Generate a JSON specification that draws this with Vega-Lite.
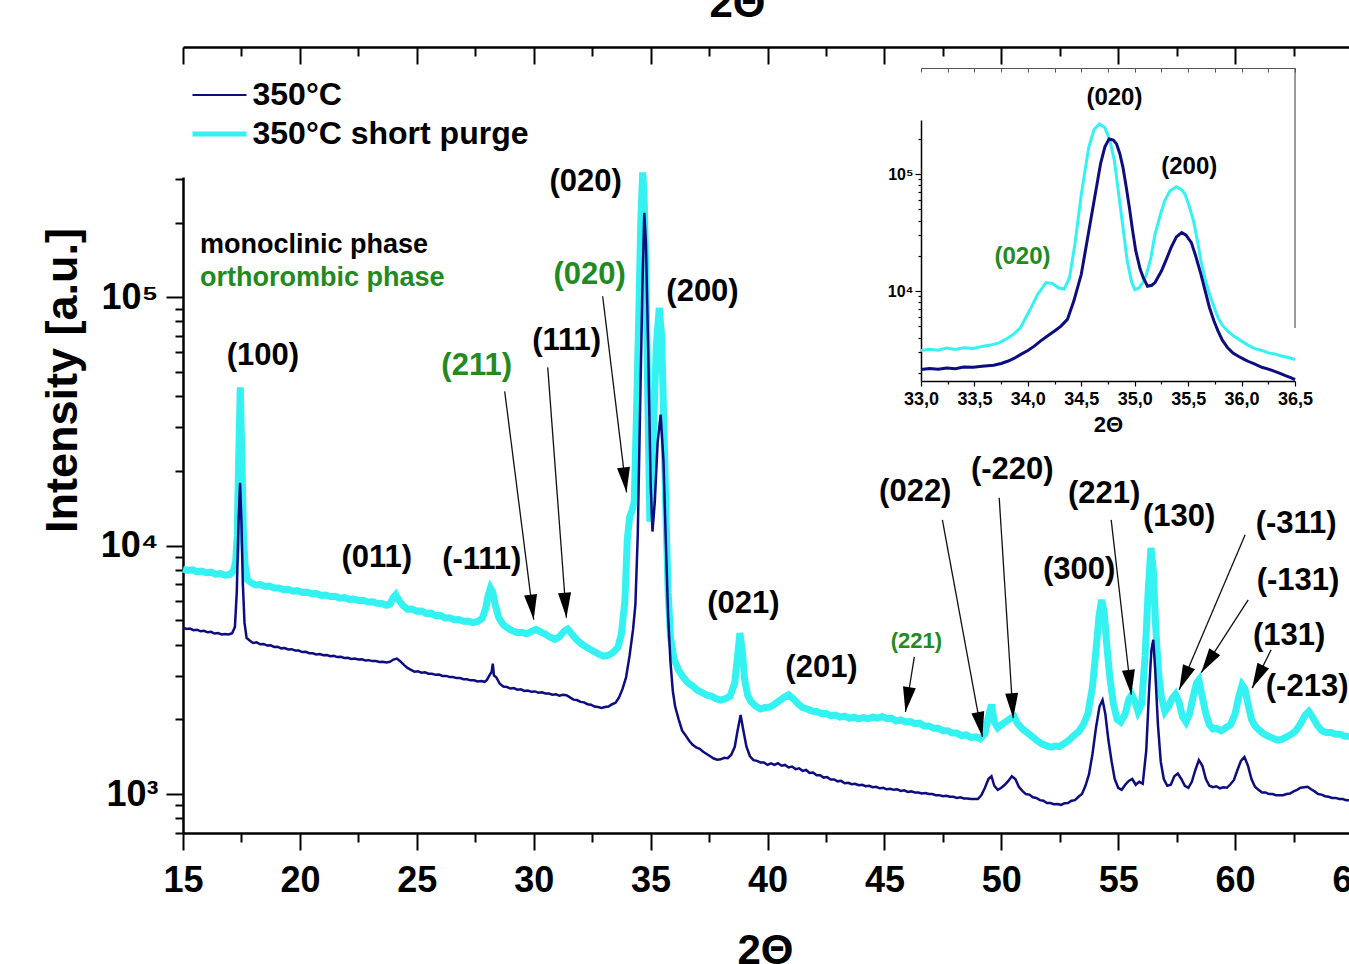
{
  "$schema": "https://vega.github.io/schema/vega-lite/v6.json",
  "width": 1169,
  "height": 656,
  "autosize": "none",
  "padding": {"left": 183, "top": 177, "right": -3, "bottom": 131},
  "background": "white",
  "config": {
    "view": {"stroke": null},
    "axis": {"grid": false, "domainColor": "black", "tickColor": "black", "labelColor": "black", "titleColor": "black", "labelFont": "Liberation Sans", "titleFont": "Liberation Sans", "labelFontWeight": "bold", "titleFontWeight": "bold", "labelOverlap": false, "labelBound": false, "labelFlush": false}
  },
  "datasets": {
    "cyan": [
      {"x":15.0,"y":8050},{"x":15.2,"y":7950},{"x":15.4,"y":8000},{"x":15.6,"y":7850},{"x":15.8,"y":7900},{"x":16.0,"y":7780},{"x":16.2,"y":7820},{"x":16.4,"y":7680},{"x":16.6,"y":7720},{"x":16.8,"y":7600},{"x":17.0,"y":7650},{"x":17.15,"y":7900},{"x":17.25,"y":8600},{"x":17.32,"y":11000},{"x":17.38,"y":22000},{"x":17.45,"y":43400},{"x":17.52,"y":22000},{"x":17.58,"y":11500},{"x":17.65,"y":8400},{"x":17.75,"y":7300},{"x":17.9,"y":7100},{"x":18.1,"y":6950},{"x":18.3,"y":6980},{"x":18.5,"y":6850},{"x":18.7,"y":6880},{"x":18.9,"y":6750},{"x":19.1,"y":6760},{"x":19.3,"y":6650},{"x":19.5,"y":6680},{"x":19.7,"y":6560},{"x":19.9,"y":6590},{"x":20.1,"y":6480},{"x":20.3,"y":6500},{"x":20.5,"y":6400},{"x":20.7,"y":6420},{"x":20.9,"y":6310},{"x":21.1,"y":6330},{"x":21.3,"y":6240},{"x":21.5,"y":6260},{"x":21.7,"y":6150},{"x":21.9,"y":6180},{"x":22.1,"y":6080},{"x":22.3,"y":6100},{"x":22.5,"y":6020},{"x":22.7,"y":6030},{"x":22.9,"y":5930},{"x":23.1,"y":5950},{"x":23.3,"y":5860},{"x":23.5,"y":5850},{"x":23.7,"y":5760},{"x":23.85,"y":5820},{"x":24.0,"y":6200},{"x":24.1,"y":6350},{"x":24.25,"y":6000},{"x":24.4,"y":5750},{"x":24.6,"y":5550},{"x":24.8,"y":5560},{"x":25.0,"y":5450},{"x":25.2,"y":5460},{"x":25.4,"y":5340},{"x":25.6,"y":5350},{"x":25.8,"y":5230},{"x":26.0,"y":5240},{"x":26.2,"y":5120},{"x":26.4,"y":5130},{"x":26.6,"y":5030},{"x":26.8,"y":5040},{"x":27.0,"y":4960},{"x":27.2,"y":4970},{"x":27.4,"y":4900},{"x":27.6,"y":4950},{"x":27.8,"y":5100},{"x":27.95,"y":5600},{"x":28.05,"y":6300},{"x":28.15,"y":6750},{"x":28.25,"y":6500},{"x":28.35,"y":5800},{"x":28.5,"y":5150},{"x":28.7,"y":4800},{"x":28.9,"y":4650},{"x":29.1,"y":4540},{"x":29.3,"y":4460},{"x":29.5,"y":4480},{"x":29.7,"y":4420},{"x":29.9,"y":4520},{"x":30.1,"y":4600},{"x":30.3,"y":4500},{"x":30.5,"y":4400},{"x":30.7,"y":4280},{"x":30.9,"y":4200},{"x":31.1,"y":4300},{"x":31.3,"y":4530},{"x":31.45,"y":4620},{"x":31.6,"y":4450},{"x":31.8,"y":4220},{"x":32.0,"y":4050},{"x":32.2,"y":3930},{"x":32.4,"y":3830},{"x":32.6,"y":3740},{"x":32.8,"y":3650},{"x":33.0,"y":3590},{"x":33.2,"y":3620},{"x":33.4,"y":3720},{"x":33.6,"y":3900},{"x":33.75,"y":4400},{"x":33.9,"y":6000},{"x":34.0,"y":10500},{"x":34.1,"y":13000},{"x":34.2,"y":13800},{"x":34.3,"y":15000},{"x":34.4,"y":35000},{"x":34.5,"y":90000},{"x":34.58,"y":200000},{"x":34.66,"y":318000},{"x":34.72,"y":260000},{"x":34.8,"y":120000},{"x":34.88,"y":40000},{"x":34.97,"y":12500},{"x":35.05,"y":16000},{"x":35.15,"y":35000},{"x":35.25,"y":65000},{"x":35.37,"y":90800},{"x":35.47,"y":70000},{"x":35.57,"y":30000},{"x":35.67,"y":12000},{"x":35.75,"y":6500},{"x":35.85,"y":4300},{"x":36.0,"y":3500},{"x":36.2,"y":3150},{"x":36.4,"y":2950},{"x":36.6,"y":2800},{"x":36.8,"y":2720},{"x":37.0,"y":2620},{"x":37.2,"y":2560},{"x":37.4,"y":2500},{"x":37.6,"y":2480},{"x":37.8,"y":2420},{"x":38.0,"y":2390},{"x":38.2,"y":2420},{"x":38.4,"y":2480},{"x":38.6,"y":2800},{"x":38.72,"y":3600},{"x":38.82,"y":4450},{"x":38.92,"y":3800},{"x":39.02,"y":2900},{"x":39.15,"y":2500},{"x":39.3,"y":2350},{"x":39.5,"y":2260},{"x":39.7,"y":2200},{"x":39.9,"y":2230},{"x":40.1,"y":2240},{"x":40.3,"y":2300},{"x":40.5,"y":2370},{"x":40.7,"y":2450},{"x":40.9,"y":2510},{"x":41.1,"y":2420},{"x":41.3,"y":2310},{"x":41.5,"y":2230},{"x":41.7,"y":2200},{"x":41.9,"y":2160},{"x":42.1,"y":2150},{"x":42.3,"y":2110},{"x":42.5,"y":2110},{"x":42.7,"y":2070},{"x":42.9,"y":2080},{"x":43.1,"y":2040},{"x":43.3,"y":2060},{"x":43.5,"y":2020},{"x":43.7,"y":2040},{"x":43.9,"y":2010},{"x":44.1,"y":2030},{"x":44.3,"y":2010},{"x":44.5,"y":2040},{"x":44.7,"y":2020},{"x":44.9,"y":2050},{"x":45.1,"y":2010},{"x":45.3,"y":2020},{"x":45.5,"y":1970},{"x":45.7,"y":1990},{"x":45.9,"y":1950},{"x":46.1,"y":1960},{"x":46.3,"y":1920},{"x":46.5,"y":1930},{"x":46.7,"y":1880},{"x":46.9,"y":1880},{"x":47.1,"y":1840},{"x":47.3,"y":1840},{"x":47.5,"y":1800},{"x":47.7,"y":1800},{"x":47.9,"y":1760},{"x":48.1,"y":1760},{"x":48.3,"y":1720},{"x":48.5,"y":1730},{"x":48.7,"y":1690},{"x":48.9,"y":1700},{"x":49.1,"y":1670},{"x":49.3,"y":1750},{"x":49.45,"y":2050},{"x":49.58,"y":2290},{"x":49.7,"y":1950},{"x":49.85,"y":1850},{"x":50.0,"y":1900},{"x":50.2,"y":1960},{"x":50.4,"y":2020},{"x":50.55,"y":2050},{"x":50.7,"y":1920},{"x":50.9,"y":1830},{"x":51.1,"y":1770},{"x":51.3,"y":1710},{"x":51.5,"y":1650},{"x":51.7,"y":1600},{"x":51.9,"y":1570},{"x":52.1,"y":1545},{"x":52.3,"y":1560},{"x":52.5,"y":1555},{"x":52.7,"y":1600},{"x":52.9,"y":1650},{"x":53.1,"y":1720},{"x":53.3,"y":1780},{"x":53.5,"y":1900},{"x":53.7,"y":2100},{"x":53.9,"y":2700},{"x":54.05,"y":3800},{"x":54.18,"y":5200},{"x":54.29,"y":6050},{"x":54.4,"y":5400},{"x":54.52,"y":3900},{"x":54.65,"y":2900},{"x":54.8,"y":2300},{"x":54.95,"y":2000},{"x":55.1,"y":1950},{"x":55.3,"y":2100},{"x":55.45,"y":2400},{"x":55.58,"y":2510},{"x":55.72,"y":2350},{"x":55.85,"y":2150},{"x":56.0,"y":2300},{"x":56.15,"y":3600},{"x":56.28,"y":6500},{"x":56.4,"y":9790},{"x":56.5,"y":8000},{"x":56.6,"y":4800},{"x":56.72,"y":3100},{"x":56.85,"y":2450},{"x":57.0,"y":2150},{"x":57.15,"y":2250},{"x":57.3,"y":2420},{"x":57.45,"y":2520},{"x":57.6,"y":2350},{"x":57.75,"y":2050},{"x":57.9,"y":1950},{"x":58.05,"y":2100},{"x":58.2,"y":2450},{"x":58.35,"y":2800},{"x":58.45,"y":2880},{"x":58.6,"y":2450},{"x":58.75,"y":2100},{"x":58.9,"y":1900},{"x":59.05,"y":1830},{"x":59.2,"y":1840},{"x":59.4,"y":1800},{"x":59.6,"y":1850},{"x":59.8,"y":1900},{"x":60.0,"y":2100},{"x":60.15,"y":2450},{"x":60.3,"y":2750},{"x":60.42,"y":2650},{"x":60.55,"y":2300},{"x":60.7,"y":2000},{"x":60.85,"y":1880},{"x":61.0,"y":1820},{"x":61.2,"y":1750},{"x":61.4,"y":1710},{"x":61.6,"y":1680},{"x":61.8,"y":1650},{"x":62.0,"y":1660},{"x":62.2,"y":1700},{"x":62.4,"y":1740},{"x":62.6,"y":1800},{"x":62.8,"y":1920},{"x":63.0,"y":2080},{"x":63.15,"y":2150},{"x":63.3,"y":2050},{"x":63.5,"y":1900},{"x":63.7,"y":1800},{"x":63.9,"y":1770},{"x":64.1,"y":1770},{"x":64.3,"y":1740},{"x":64.5,"y":1740},{"x":64.7,"y":1710},{"x":64.9,"y":1710},{"x":65.0,"y":1700}
    ],
    "navy": [
      {"x":15.0,"y":4680},{"x":15.15,"y":4620},{"x":15.3,"y":4640},{"x":15.45,"y":4570},{"x":15.6,"y":4590},{"x":15.75,"y":4520},{"x":15.9,"y":4540},{"x":16.05,"y":4480},{"x":16.2,"y":4500},{"x":16.35,"y":4430},{"x":16.5,"y":4450},{"x":16.65,"y":4390},{"x":16.8,"y":4410},{"x":16.95,"y":4390},{"x":17.1,"y":4440},{"x":17.22,"y":4700},{"x":17.3,"y":6500},{"x":17.37,"y":12000},{"x":17.44,"y":17900},{"x":17.5,"y":12500},{"x":17.56,"y":7000},{"x":17.63,"y":4900},{"x":17.72,"y":4250},{"x":17.85,"y":4150},{"x":18.0,"y":4060},{"x":18.15,"y":4080},{"x":18.3,"y":4010},{"x":18.45,"y":4020},{"x":18.6,"y":3960},{"x":18.75,"y":3970},{"x":18.9,"y":3910},{"x":19.05,"y":3920},{"x":19.2,"y":3860},{"x":19.35,"y":3870},{"x":19.5,"y":3820},{"x":19.65,"y":3830},{"x":19.8,"y":3780},{"x":19.95,"y":3780},{"x":20.1,"y":3730},{"x":20.25,"y":3740},{"x":20.4,"y":3690},{"x":20.55,"y":3690},{"x":20.7,"y":3650},{"x":20.85,"y":3660},{"x":21.0,"y":3620},{"x":21.15,"y":3630},{"x":21.3,"y":3590},{"x":21.45,"y":3600},{"x":21.6,"y":3560},{"x":21.75,"y":3570},{"x":21.9,"y":3530},{"x":22.05,"y":3540},{"x":22.2,"y":3500},{"x":22.35,"y":3510},{"x":22.5,"y":3480},{"x":22.65,"y":3490},{"x":22.8,"y":3450},{"x":22.95,"y":3460},{"x":23.1,"y":3430},{"x":23.25,"y":3430},{"x":23.4,"y":3400},{"x":23.55,"y":3410},{"x":23.7,"y":3390},{"x":23.85,"y":3410},{"x":24.0,"y":3480},{"x":24.15,"y":3510},{"x":24.3,"y":3420},{"x":24.45,"y":3310},{"x":24.6,"y":3220},{"x":24.75,"y":3160},{"x":24.9,"y":3110},{"x":25.05,"y":3120},{"x":25.2,"y":3080},{"x":25.35,"y":3090},{"x":25.5,"y":3050},{"x":25.65,"y":3050},{"x":25.8,"y":3020},{"x":25.95,"y":3030},{"x":26.1,"y":2990},{"x":26.25,"y":2990},{"x":26.4,"y":2960},{"x":26.55,"y":2960},{"x":26.7,"y":2930},{"x":26.85,"y":2930},{"x":27.0,"y":2900},{"x":27.15,"y":2900},{"x":27.3,"y":2870},{"x":27.45,"y":2870},{"x":27.6,"y":2840},{"x":27.75,"y":2850},{"x":27.9,"y":2830},{"x":28.0,"y":2880},{"x":28.1,"y":3000},{"x":28.2,"y":3100},{"x":28.25,"y":3350},{"x":28.3,"y":3000},{"x":28.4,"y":2950},{"x":28.55,"y":2780},{"x":28.7,"y":2710},{"x":28.85,"y":2700},{"x":29.0,"y":2660},{"x":29.15,"y":2670},{"x":29.3,"y":2630},{"x":29.45,"y":2640},{"x":29.6,"y":2600},{"x":29.75,"y":2610},{"x":29.9,"y":2580},{"x":30.05,"y":2590},{"x":30.2,"y":2560},{"x":30.35,"y":2570},{"x":30.5,"y":2540},{"x":30.65,"y":2540},{"x":30.8,"y":2510},{"x":30.95,"y":2520},{"x":31.1,"y":2490},{"x":31.25,"y":2510},{"x":31.4,"y":2500},{"x":31.55,"y":2450},{"x":31.7,"y":2400},{"x":31.85,"y":2390},{"x":32.0,"y":2350},{"x":32.15,"y":2340},{"x":32.3,"y":2300},{"x":32.45,"y":2290},{"x":32.6,"y":2250},{"x":32.75,"y":2240},{"x":32.9,"y":2220},{"x":33.05,"y":2240},{"x":33.2,"y":2250},{"x":33.35,"y":2300},{"x":33.5,"y":2330},{"x":33.65,"y":2450},{"x":33.8,"y":2650},{"x":33.95,"y":2950},{"x":34.1,"y":3600},{"x":34.25,"y":4600},{"x":34.35,"y":5800},{"x":34.45,"y":11000},{"x":34.55,"y":35000},{"x":34.65,"y":110000},{"x":34.73,"y":219000},{"x":34.8,"y":165000},{"x":34.9,"y":60000},{"x":35.0,"y":18000},{"x":35.08,"y":11400},{"x":35.18,"y":15000},{"x":35.3,"y":26000},{"x":35.43,"y":33700},{"x":35.55,"y":22000},{"x":35.65,"y":10500},{"x":35.75,"y":5200},{"x":35.85,"y":3400},{"x":35.95,"y":2600},{"x":36.05,"y":2250},{"x":36.2,"y":2000},{"x":36.35,"y":1800},{"x":36.5,"y":1720},{"x":36.65,"y":1640},{"x":36.8,"y":1580},{"x":36.95,"y":1540},{"x":37.1,"y":1520},{"x":37.25,"y":1480},{"x":37.4,"y":1450},{"x":37.55,"y":1420},{"x":37.7,"y":1390},{"x":37.85,"y":1375},{"x":38.0,"y":1380},{"x":38.15,"y":1400},{"x":38.3,"y":1395},{"x":38.45,"y":1440},{"x":38.6,"y":1550},{"x":38.72,"y":1800},{"x":38.85,"y":2080},{"x":38.97,"y":1800},{"x":39.1,"y":1550},{"x":39.25,"y":1420},{"x":39.4,"y":1370},{"x":39.55,"y":1360},{"x":39.7,"y":1340},{"x":39.85,"y":1340},{"x":40.0,"y":1310},{"x":40.15,"y":1330},{"x":40.3,"y":1310},{"x":40.45,"y":1330},{"x":40.6,"y":1300},{"x":40.75,"y":1310},{"x":40.9,"y":1280},{"x":41.05,"y":1290},{"x":41.2,"y":1260},{"x":41.35,"y":1270},{"x":41.5,"y":1240},{"x":41.65,"y":1250},{"x":41.8,"y":1215},{"x":41.95,"y":1220},{"x":42.1,"y":1190},{"x":42.25,"y":1190},{"x":42.4,"y":1165},{"x":42.55,"y":1170},{"x":42.7,"y":1145},{"x":42.85,"y":1145},{"x":43.0,"y":1125},{"x":43.15,"y":1130},{"x":43.3,"y":1105},{"x":43.45,"y":1110},{"x":43.6,"y":1095},{"x":43.75,"y":1100},{"x":43.9,"y":1085},{"x":44.05,"y":1090},{"x":44.2,"y":1075},{"x":44.35,"y":1080},{"x":44.5,"y":1065},{"x":44.65,"y":1070},{"x":44.8,"y":1055},{"x":44.95,"y":1060},{"x":45.1,"y":1045},{"x":45.25,"y":1050},{"x":45.4,"y":1040},{"x":45.55,"y":1045},{"x":45.7,"y":1030},{"x":45.85,"y":1035},{"x":46.0,"y":1020},{"x":46.15,"y":1025},{"x":46.3,"y":1015},{"x":46.45,"y":1015},{"x":46.6,"y":1005},{"x":46.75,"y":1010},{"x":46.9,"y":1000},{"x":47.05,"y":1000},{"x":47.2,"y":990},{"x":47.35,"y":990},{"x":47.5,"y":980},{"x":47.65,"y":985},{"x":47.8,"y":975},{"x":47.95,"y":975},{"x":48.1,"y":965},{"x":48.25,"y":970},{"x":48.4,"y":960},{"x":48.55,"y":960},{"x":48.7,"y":955},{"x":48.85,"y":955},{"x":49.0,"y":955},{"x":49.15,"y":990},{"x":49.3,"y":1060},{"x":49.45,"y":1150},{"x":49.58,"y":1180},{"x":49.7,"y":1080},{"x":49.85,"y":1040},{"x":50.0,"y":1060},{"x":50.15,"y":1090},{"x":50.3,"y":1130},{"x":50.45,"y":1180},{"x":50.6,"y":1150},{"x":50.75,"y":1070},{"x":50.9,"y":1030},{"x":51.05,"y":1000},{"x":51.2,"y":995},{"x":51.35,"y":970},{"x":51.5,"y":965},{"x":51.65,"y":945},{"x":51.8,"y":940},{"x":51.95,"y":920},{"x":52.1,"y":920},{"x":52.25,"y":910},{"x":52.4,"y":912},{"x":52.55,"y":905},{"x":52.7,"y":918},{"x":52.85,"y":920},{"x":53.0,"y":940},{"x":53.15,"y":945},{"x":53.3,"y":975},{"x":53.45,"y":1000},{"x":53.6,"y":1080},{"x":53.75,"y":1200},{"x":53.9,"y":1450},{"x":54.05,"y":1850},{"x":54.2,"y":2250},{"x":54.33,"y":2390},{"x":54.45,"y":2100},{"x":54.58,"y":1650},{"x":54.72,"y":1350},{"x":54.85,"y":1150},{"x":55.0,"y":1060},{"x":55.15,"y":1040},{"x":55.3,"y":1090},{"x":55.45,"y":1130},{"x":55.6,"y":1150},{"x":55.75,"y":1090},{"x":55.9,"y":1120},{"x":56.05,"y":1100},{"x":56.2,"y":1500},{"x":56.32,"y":2600},{"x":56.42,"y":3800},{"x":56.5,"y":4180},{"x":56.58,"y":3200},{"x":56.7,"y":1900},{"x":56.82,"y":1350},{"x":56.95,"y":1150},{"x":57.1,"y":1080},{"x":57.25,"y":1090},{"x":57.4,"y":1180},{"x":57.55,"y":1210},{"x":57.7,"y":1150},{"x":57.85,"y":1080},{"x":58.0,"y":1060},{"x":58.15,"y":1120},{"x":58.3,"y":1250},{"x":58.45,"y":1370},{"x":58.6,"y":1300},{"x":58.75,"y":1150},{"x":58.9,"y":1080},{"x":59.05,"y":1065},{"x":59.2,"y":1075},{"x":59.35,"y":1055},{"x":59.5,"y":1065},{"x":59.65,"y":1060},{"x":59.8,"y":1095},{"x":59.95,"y":1140},{"x":60.1,"y":1250},{"x":60.25,"y":1360},{"x":60.4,"y":1410},{"x":60.55,"y":1300},{"x":60.7,"y":1150},{"x":60.85,"y":1070},{"x":61.0,"y":1040},{"x":61.15,"y":1015},{"x":61.3,"y":1015},{"x":61.45,"y":1000},{"x":61.6,"y":1000},{"x":61.75,"y":990},{"x":61.9,"y":990},{"x":62.05,"y":990},{"x":62.2,"y":1000},{"x":62.35,"y":1005},{"x":62.5,"y":1025},{"x":62.65,"y":1040},{"x":62.8,"y":1060},{"x":62.95,"y":1065},{"x":63.1,"y":1070},{"x":63.25,"y":1045},{"x":63.4,"y":1025},{"x":63.55,"y":1000},{"x":63.7,"y":995},{"x":63.85,"y":980},{"x":64.0,"y":975},{"x":64.15,"y":965},{"x":64.3,"y":965},{"x":64.45,"y":955},{"x":64.6,"y":955},{"x":64.75,"y":945},{"x":64.9,"y":945},{"x":65.0,"y":945}
    ],
    "insetCyan": [
      {"x":33.0,"y":3100},{"x":33.08,"y":3180},{"x":33.16,"y":3120},{"x":33.24,"y":3250},{"x":33.32,"y":3170},{"x":33.4,"y":3280},{"x":33.49,"y":3230},{"x":33.57,"y":3350},{"x":33.65,"y":3450},{"x":33.73,"y":3600},{"x":33.81,"y":3950},{"x":33.87,"y":4300},{"x":33.93,"y":4850},{"x":33.98,"y":5900},{"x":34.03,"y":7200},{"x":34.09,"y":9300},{"x":34.17,"y":11800},{"x":34.23,"y":11600},{"x":34.29,"y":10600},{"x":34.34,"y":10400},{"x":34.39,"y":13000},{"x":34.44,"y":25000},{"x":34.5,"y":67000},{"x":34.57,"y":169000},{"x":34.62,"y":240000},{"x":34.67,"y":268000},{"x":34.72,"y":250000},{"x":34.77,"y":190000},{"x":34.81,"y":130000},{"x":34.87,"y":48500},{"x":34.93,"y":18100},{"x":34.97,"y":12000},{"x":35.0,"y":10300},{"x":35.04,"y":10600},{"x":35.08,"y":12000},{"x":35.11,"y":13900},{"x":35.15,"y":19000},{"x":35.19,"y":30600},{"x":35.24,"y":45000},{"x":35.28,"y":59100},{"x":35.33,"y":72000},{"x":35.39,"y":77900},{"x":35.44,"y":73000},{"x":35.47,"y":67400},{"x":35.51,"y":53000},{"x":35.55,"y":39800},{"x":35.59,"y":26000},{"x":35.62,"y":18100},{"x":35.66,"y":12500},{"x":35.7,"y":9360},{"x":35.74,"y":7400},{"x":35.78,"y":5900},{"x":35.82,"y":5100},{"x":35.87,"y":4540},{"x":35.93,"y":4100},{"x":36.0,"y":3730},{"x":36.06,"y":3450},{"x":36.12,"y":3230},{"x":36.18,"y":3120},{"x":36.25,"y":2960},{"x":36.31,"y":2900},{"x":36.38,"y":2770},{"x":36.44,"y":2700},{"x":36.5,"y":2600}
    ],
    "insetNavy": [
      {"x":33.0,"y":2130},{"x":33.08,"y":2180},{"x":33.16,"y":2150},{"x":33.24,"y":2200},{"x":33.32,"y":2170},{"x":33.4,"y":2240},{"x":33.49,"y":2230},{"x":33.57,"y":2280},{"x":33.68,"y":2320},{"x":33.75,"y":2400},{"x":33.81,"y":2510},{"x":33.87,"y":2650},{"x":33.93,"y":2860},{"x":34.0,"y":3100},{"x":34.06,"y":3380},{"x":34.12,"y":3750},{"x":34.18,"y":4110},{"x":34.25,"y":4550},{"x":34.31,"y":5010},{"x":34.37,"y":5720},{"x":34.43,"y":8200},{"x":34.5,"y":13900},{"x":34.56,"y":28700},{"x":34.62,"y":59100},{"x":34.68,"y":121800},{"x":34.72,"y":170000},{"x":34.76,"y":199500},{"x":34.8,"y":195000},{"x":34.83,"y":180800},{"x":34.86,"y":150000},{"x":34.89,"y":114000},{"x":34.92,"y":78000},{"x":34.95,"y":51800},{"x":34.98,"y":33000},{"x":35.01,"y":22000},{"x":35.05,"y":15500},{"x":35.08,"y":13000},{"x":35.12,"y":11000},{"x":35.16,"y":11200},{"x":35.19,"y":11800},{"x":35.25,"y":14800},{"x":35.3,"y":19000},{"x":35.34,"y":23500},{"x":35.39,"y":29000},{"x":35.44,"y":31600},{"x":35.48,"y":30000},{"x":35.53,"y":25900},{"x":35.57,"y":20000},{"x":35.62,"y":13900},{"x":35.66,"y":10000},{"x":35.7,"y":7200},{"x":35.74,"y":5600},{"x":35.78,"y":4540},{"x":35.82,"y":3800},{"x":35.87,"y":3270},{"x":35.92,"y":2950},{"x":35.97,"y":2770},{"x":36.02,"y":2620},{"x":36.06,"y":2510},{"x":36.12,"y":2380},{"x":36.19,"y":2230},{"x":36.25,"y":2150},{"x":36.31,"y":2060},{"x":36.36,"y":1980},{"x":36.41,"y":1890},{"x":36.46,"y":1820},{"x":36.5,"y":1750}
    ],
    "labels": [
      {"label":"(100)","x":18.42,"y":57800,"phase":"monoclinic"},
      {"label":"(011)","x":23.29,"y":8960,"phase":"monoclinic"},
      {"label":"(-111)","x":27.78,"y":8790,"phase":"monoclinic"},
      {"label":"(111)","x":31.41,"y":66500,"phase":"monoclinic"},
      {"label":"(020)","x":32.22,"y":291000,"phase":"monoclinic"},
      {"label":"(200)","x":37.22,"y":104800,"phase":"monoclinic"},
      {"label":"(021)","x":38.97,"y":5840,"phase":"monoclinic"},
      {"label":"(201)","x":42.31,"y":3220,"phase":"monoclinic"},
      {"label":"(022)","x":46.32,"y":16500,"phase":"monoclinic"},
      {"label":"(-220)","x":50.47,"y":20200,"phase":"monoclinic"},
      {"label":"(221)","x":54.40,"y":16100,"phase":"monoclinic"},
      {"label":"(130)","x":57.61,"y":13100,"phase":"monoclinic"},
      {"label":"(300)","x":53.33,"y":8000,"phase":"monoclinic"},
      {"label":"(-311)","x":62.61,"y":12200,"phase":"monoclinic"},
      {"label":"(-131)","x":62.69,"y":7230,"phase":"monoclinic"},
      {"label":"(131)","x":62.31,"y":4330,"phase":"monoclinic"},
      {"label":"(-213)","x":63.08,"y":2700,"phase":"monoclinic"},
      {"label":"(211)","x":27.56,"y":52700,"phase":"orthorhombic"},
      {"label":"(020)","x":32.39,"y":122700,"phase":"orthorhombic"},
      {"label":"(221)","x":46.37,"y":4140,"phase":"orthorhombic"}
    ],
    "key": [
      {"text":"monoclinic phase","x":15.73,"y":162000,"phase":"monoclinic"},
      {"text":"orthorombic phase","x":15.73,"y":119400,"phase":"orthorhombic"}
    ],
    "arrows": [
      {"peak":"(211)","tx":28.76,"ty":41800,"hx":30.0,"hy":5040},
      {"peak":"(111)","tx":30.60,"ty":52200,"hx":31.40,"hy":5130},
      {"peak":"(020) orthorhombic","tx":32.95,"ty":101000,"hx":33.97,"hy":16400},
      {"peak":"(221) orthorhombic","tx":46.28,"ty":3570,"hx":45.90,"hy":2140},
      {"peak":"(022)","tx":47.48,"ty":12700,"hx":49.19,"hy":1700},
      {"peak":"(-220)","tx":49.91,"ty":15600,"hx":50.51,"hy":2020},
      {"peak":"(221)","tx":54.70,"ty":12700,"hx":55.56,"hy":2510},
      {"peak":"(-311)","tx":60.43,"ty":11070,"hx":57.61,"hy":2630},
      {"peak":"(-131)","tx":60.56,"ty":6050,"hx":58.55,"hy":3080},
      {"peak":"(131)","tx":61.54,"ty":3810,"hx":60.73,"hy":2670}
    ],
    "insetLabels": [
      {"label":"(020)","x":34.81,"y":446700,"phase":"monoclinic"},
      {"label":"(200)","x":35.51,"y":114800,"phase":"monoclinic"},
      {"label":"(020)","x":33.95,"y":19550,"phase":"orthorhombic"}
    ]
  },
  "layer": [
    {
      "name": "main",
      "resolve": {"axis": {"x": "independent", "y": "independent"}},
      "layer": [
        {
          "data": {"name": "cyan"},
          "mark": {"type": "line", "strokeWidth": 7, "clip": false},
          "encoding": {
            "x": {"field": "x", "type": "quantitative", "scale": {"domain": [15, 65], "nice": false, "zero": false},
              "axis": {"orient": "bottom", "values": [15,17.5,20,22.5,25,27.5,30,32.5,35,37.5,40,42.5,45,47.5,50,52.5,55,57.5,60,62.5,65],
                "labelExpr": "datum.value % 5 === 0 ? datum.label : ''", "domainWidth": 2.5, "tickWidth": 2,
                "tickSize": {"condition": {"test": "datum.value % 5 === 0", "value": 17}, "value": 9},
                "labelFontSize": 36, "labelPadding": 13, "title": "2Θ", "titleFontSize": 42, "titleX": 582, "titleY": 130, "titleBaseline": "alphabetic", "titleAlign": "center"}},
            "y": {"field": "y", "type": "quantitative", "scale": {"type": "log", "domain": [697, 305000], "nice": false},
              "axis": {"orient": "left", "values": [1000, 10000, 100000],
                "labelExpr": "datum.value === 1000 ? '10³' : datum.value === 10000 ? '10⁴' : '10⁵'",
                "domainWidth": 2.5, "tickWidth": 2, "tickSize": 17,
                "labelFontSize": 36, "labelPadding": 8, "title": "Intensity [a.u.]", "titleFontSize": 45, "titleAngle": -90, "titleX": -107, "titleY": 203, "titleBaseline": "alphabetic", "titleAlign": "center"}},
            "color": {"datum": "350°C short purge", "type": "nominal",
              "scale": {"domain": ["350°C", "350°C short purge"], "range": ["#0d0d80", "#35f2f2"]},
              "legend": {"orient": "none", "legendX": 20.5, "legendY": -98, "title": null, "padding": 0,
                "symbolType": "M-2,0H2", "symbolSize": 729, "symbolStrokeWidth": 3,
                "labelFont": "Liberation Sans", "labelFontWeight": "bold", "labelFontSize": 32, "labelColor": "black", "labelOffset": 17, "labelLimit": 600, "rowPadding": 7,
                "encode": {"symbols": {"update": {"strokeWidth": {"signal": "datum.value === '350°C' ? 2 : 5"}}}}}}
          }
        },
        {
          "data": {"name": "navy"},
          "mark": {"type": "line", "strokeWidth": 2.5, "clip": false},
          "encoding": {
            "x": {"field": "x", "type": "quantitative", "scale": {"domain": [15, 65], "nice": false, "zero": false},
              "axis": {"orient": "top", "offset": 130, "values": [15,17.5,20,22.5,25,27.5,30,32.5,35,37.5,40,42.5,45,47.5,50,52.5,55,57.5,60,62.5,65],
                "labels": false, "domainWidth": 2.5, "tickWidth": 2,
                "tickSize": {"condition": {"test": "datum.value % 5 === 0", "value": -17}, "value": -9},
                "title": "2Θ", "titleFontSize": 42, "titleX": 554, "titleY": -31, "titleBaseline": "alphabetic", "titleAlign": "center"}},
            "y": {"field": "y", "type": "quantitative", "scale": {"type": "log", "domain": [697, 305000], "nice": false},
              "axis": {"orient": "left", "values": [700,800,900,2000,3000,4000,5000,6000,7000,8000,9000,20000,30000,40000,50000,60000,70000,80000,90000,200000,300000],
                "labels": false, "domain": false, "tickWidth": 2, "tickSize": 8, "title": null}},
            "color": {"datum": "350°C", "type": "nominal"}
          }
        },
        {
          "data": {"name": "arrows"},
          "mark": {"type": "rule", "color": "#111111", "strokeWidth": 1.3, "clip": false},
          "encoding": {
            "x": {"field": "tx", "type": "quantitative", "axis": null},
            "y": {"field": "ty", "type": "quantitative", "axis": null},
            "x2": {"field": "hx"},
            "y2": {"field": "hy"}
          }
        },
        {
          "data": {"name": "arrows"},
          "mark": {"type": "point", "shape": "M0,0L-0.26,-1L0.26,-1Z", "size": 2500, "filled": true, "opacity": 1, "color": "#000000", "strokeWidth": 0, "clip": false,
            "angle": {"expr": "atan2(scale('main_x', datum.tx) - scale('main_x', datum.hx), scale('main_y', datum.hy) - scale('main_y', datum.ty)) * 180 / PI"}},
          "encoding": {
            "x": {"field": "hx", "type": "quantitative", "axis": null},
            "y": {"field": "hy", "type": "quantitative", "axis": null}
          }
        },
        {
          "data": {"name": "labels"},
          "transform": [{"filter": "datum.phase === 'monoclinic'"}],
          "mark": {"type": "text", "font": "Liberation Sans", "fontWeight": "bold", "fontSize": 31, "color": "#000000", "align": "center", "baseline": "middle", "clip": false},
          "encoding": {
            "x": {"field": "x", "type": "quantitative", "axis": null},
            "y": {"field": "y", "type": "quantitative", "axis": null},
            "text": {"field": "label"}
          }
        },
        {
          "data": {"name": "labels"},
          "transform": [{"filter": "datum.phase === 'orthorhombic' && datum.x < 40"}],
          "mark": {"type": "text", "font": "Liberation Sans", "fontWeight": "bold", "fontSize": 31, "color": "#218a21", "align": "center", "baseline": "middle", "clip": false},
          "encoding": {
            "x": {"field": "x", "type": "quantitative", "axis": null},
            "y": {"field": "y", "type": "quantitative", "axis": null},
            "text": {"field": "label"}
          }
        },
        {
          "data": {"name": "labels"},
          "transform": [{"filter": "datum.phase === 'orthorhombic' && datum.x > 40"}],
          "mark": {"type": "text", "font": "Liberation Sans", "fontWeight": "bold", "fontSize": 22, "color": "#218a21", "align": "center", "baseline": "middle", "clip": false},
          "encoding": {
            "x": {"field": "x", "type": "quantitative", "axis": null},
            "y": {"field": "y", "type": "quantitative", "axis": null},
            "text": {"field": "label"}
          }
        },
        {
          "data": {"name": "key"},
          "mark": {"type": "text", "font": "Liberation Sans", "fontWeight": "bold", "fontSize": 27, "align": "left", "baseline": "middle", "clip": false},
          "encoding": {
            "x": {"field": "x", "type": "quantitative", "axis": null},
            "y": {"field": "y", "type": "quantitative", "axis": null},
            "text": {"field": "text"},
            "fill": {"condition": {"test": "datum.phase === 'orthorhombic'", "value": "#218a21"}, "value": "#000000"}
          }
        }
      ]
    },
    {
      "name": "inset",
      "resolve": {"axis": {"x": "independent", "y": "independent"}},
      "layer": [
        {
          "data": {"name": "insetCyan"},
          "mark": {"type": "line", "strokeWidth": 3, "color": "#35f2f2", "clip": false},
          "encoding": {
            "x": {"field": "x", "type": "quantitative", "scale": {"domain": [33, 36.5], "range": [738, 1112], "nice": false, "zero": false},
              "axis": {"orient": "bottom", "offset": -452, "values": [33,33.25,33.5,33.75,34,34.25,34.5,34.75,35,35.25,35.5,35.75,36,36.25,36.5],
                "labelExpr": "(datum.value * 2) % 1 === 0 ? replace(format(datum.value, '.1f'), '.', ',') : ''",
                "domainWidth": 1.5, "tickWidth": 1.2,
                "tickSize": {"condition": {"test": "(datum.value * 2) % 1 === 0", "value": 5}, "value": 3},
                "labelFontSize": 18, "labelPadding": 4, "title": "2Θ", "titleFontSize": 22, "titleY": 50, "titleBaseline": "alphabetic"}},
            "y": {"field": "y", "type": "quantitative", "scale": {"type": "log", "domain": [1702, 289400], "range": [204, -57], "nice": false},
              "axis": {"orient": "left", "offset": -738, "values": [10000, 100000],
                "labelExpr": "datum.value === 10000 ? '10⁴' : '10⁵'",
                "domainWidth": 1.5, "tickWidth": 1.2, "tickSize": 6,
                "labelFontSize": 16, "labelPadding": 2, "title": null}}
          }
        },
        {
          "data": {"name": "insetNavy"},
          "mark": {"type": "line", "strokeWidth": 3, "color": "#0d0d80", "clip": false},
          "encoding": {
            "x": {"field": "x", "type": "quantitative", "scale": {"domain": [33, 36.5], "range": [738, 1112], "nice": false, "zero": false},
              "axis": {"orient": "top", "offset": 109, "values": [33,33.25,33.5,33.75,34,34.25,34.5,34.75,35,35.25,35.5,35.75,36,36.25,36.5],
                "labels": false, "domainWidth": 1.2, "domainColor": "#555555", "tickColor": "#555555", "tickWidth": 1, "tickSize": -4, "title": null}},
            "y": {"field": "y", "type": "quantitative", "scale": {"type": "log", "domain": [1702, 289400], "range": [204, -57], "nice": false},
              "axis": {"orient": "left", "offset": -738, "values": [2000,3000,4000,5000,6000,7000,8000,9000,20000,30000,40000,50000,60000,70000,80000,90000,200000],
                "labels": false, "domain": false, "tickWidth": 1.2, "tickSize": 3, "title": null}}
          }
        },
        {
          "data": {"values": [{}]},
          "mark": {"type": "rule", "color": "#555555", "strokeWidth": 1.2, "clip": false},
          "encoding": {
            "x": {"datum": 36.5, "type": "quantitative", "axis": null},
            "y": {"datum": 806000, "type": "quantitative", "axis": null},
            "y2": {"datum": 4830}
          }
        },
        {
          "data": {"name": "insetLabels"},
          "mark": {"type": "text", "font": "Liberation Sans", "fontWeight": "bold", "fontSize": 24, "align": "center", "baseline": "middle", "clip": false},
          "encoding": {
            "x": {"field": "x", "type": "quantitative", "axis": null},
            "y": {"field": "y", "type": "quantitative", "axis": null},
            "text": {"field": "label"},
            "fill": {"condition": {"test": "datum.phase === 'orthorhombic'", "value": "#218a21"}, "value": "#000000"}
          }
        }
      ]
    }
  ],
  "resolve": {"scale": {"x": "independent", "y": "independent"}}
}
